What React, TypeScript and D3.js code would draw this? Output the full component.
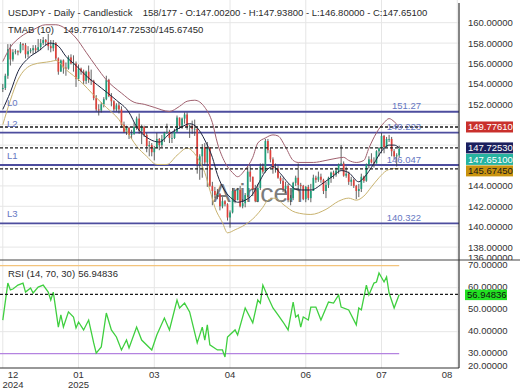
import React from "react";
import * as d3 from "d3";

const W = 520;
const H = 390;

// ---- candle data (bar index 0..157) ----
const opens = [
  153.5, 153.6, 154.8, 157.4, 156.4, 157.1, 157.2, 157.1, 157.9, 157.8,
  156.9, 157.2, 157.3, 157.5, 157.3, 157.6, 158.0, 158.3, 158.1, 157.7,
  157.5, 158.0, 156.5, 155.2, 156.3, 155.6, 155.5, 156.6, 156.0, 156.0,
  154.5, 155.5, 155.2, 154.3, 155.2, 154.4, 154.3, 152.6, 151.5, 151.4,
  152.0, 152.5, 154.4, 152.8, 152.3, 151.5, 151.9, 151.5, 150.0, 149.3,
  149.7, 149.0, 149.1, 149.8, 150.6, 149.4, 149.8, 149.0, 147.9, 148.0,
  147.3, 147.7, 148.6, 148.0, 148.6, 149.2, 149.3, 148.7, 148.7, 149.3,
  150.7, 149.9, 150.6, 151.0, 149.8, 149.9, 149.6, 149.6, 146.1, 146.9,
  147.8, 146.3, 147.8, 144.0, 143.5, 143.1, 143.2, 142.0, 142.5, 142.2,
  140.9, 141.4, 143.5, 142.6, 143.6, 142.0, 142.3, 143.1, 145.4, 144.9,
  143.7, 142.5, 143.8, 145.9, 145.4, 148.4, 147.5, 146.6, 145.7, 145.7,
  144.8, 144.5, 143.7, 144.0, 142.6, 142.8, 144.3, 144.8, 144.1, 144.0,
  142.7, 143.9, 142.8, 143.5, 144.8, 144.6, 144.9, 144.6, 143.5, 144.1,
  144.8, 145.3, 145.1, 145.5, 146.1, 146.2, 145.0, 145.2, 144.4, 144.6,
  144.0, 143.5, 143.7, 144.9, 144.5, 146.1, 146.6, 146.3, 146.2, 147.4,
  147.7, 148.9, 147.8, 148.6, 148.6, 147.4, 146.9, 147.002,
];
const highs = [
  154.0, 155.0, 157.9, 157.9, 157.4, 157.4, 157.3, 158.1, 158.0, 158.0,
  157.7, 157.5, 157.8, 157.8, 158.4, 158.4, 158.6, 158.4, 158.9, 158.3,
  158.3, 158.1, 156.6, 156.4, 156.4, 156.1, 156.8, 156.9, 156.8, 156.2,
  155.9, 155.6, 155.4, 155.3, 155.8, 155.4, 154.4, 152.9, 152.0, 152.2,
  152.7, 154.8, 154.5, 153.1, 152.4, 152.1, 152.2, 151.8, 150.3, 149.9,
  149.8, 149.5, 150.2, 150.8, 151.1, 150.0, 149.9, 149.2, 148.4, 148.2,
  147.9, 149.2, 148.7, 149.0, 149.3, 150.1, 149.5, 149.2, 149.6, 150.9,
  150.7, 150.7, 151.2, 151.2, 150.0, 150.4, 150.5, 149.7, 147.1, 148.1,
  148.2, 148.3, 147.8, 144.4, 143.9, 143.7, 143.3, 142.9, 142.6, 142.3,
  141.6, 143.8, 143.6, 143.8, 144.0, 142.7, 143.3, 145.9, 146.0, 144.9,
  144.1, 144.2, 146.2, 146.2, 148.6, 148.6, 147.7, 146.8, 146.2, 146.0,
  145.0, 144.8, 144.4, 144.2, 143.1, 144.4, 145.0, 146.2, 144.3, 144.1,
  144.0, 144.1, 144.2, 145.1, 145.0, 145.4, 145.2, 144.7, 144.4, 144.9,
  145.4, 145.5, 145.8, 146.2, 148.0, 146.4, 145.9, 145.4, 144.9, 144.7,
  144.1, 144.2, 145.2, 145.0, 146.2, 146.9, 147.2, 146.8, 147.5, 147.8,
  149.2, 149.0, 148.8, 149.0, 148.8, 147.6, 147.2, 147.938,
];
const lows = [
  153.2, 153.4, 154.5, 155.8, 156.2, 156.9, 156.8, 157.0, 157.3, 156.5,
  156.6, 157.0, 156.9, 157.0, 157.2, 157.3, 157.8, 157.8, 157.3, 157.1,
  157.2, 156.3, 154.9, 155.2, 155.0, 154.8, 155.4, 155.9, 155.2, 153.7,
  154.3, 154.9, 154.0, 154.0, 154.1, 153.9, 152.4, 151.3, 150.9, 151.2,
  151.7, 152.4, 152.7, 151.8, 151.3, 151.3, 151.1, 149.7, 149.2, 149.0,
  148.6, 148.6, 149.0, 149.5, 149.1, 148.1, 148.8, 147.3, 146.9, 146.9,
  146.5, 147.7, 147.5, 147.8, 148.3, 149.1, 148.2, 148.2, 148.6, 149.3,
  149.6, 149.6, 150.1, 149.5, 148.7, 149.1, 148.9, 145.2, 144.6, 144.8,
  146.0, 143.9, 143.9, 142.1, 142.8, 142.7, 141.6, 141.8, 142.0, 140.6,
  139.9, 141.3, 142.3, 142.6, 141.9, 141.8, 141.9, 142.9, 144.4, 143.0,
  142.4, 142.4, 143.6, 145.2, 145.3, 147.2, 146.3, 145.2, 145.3, 144.7,
  144.2, 143.4, 143.3, 142.4, 142.1, 142.6, 144.0, 143.6, 143.6, 142.6,
  142.4, 142.6, 142.4, 143.5, 144.3, 144.4, 144.3, 143.2, 142.8, 143.8,
  144.3, 144.7, 144.9, 145.2, 146.0, 144.9, 144.8, 144.1, 144.0, 143.8,
  142.7, 142.9, 143.4, 144.3, 144.4, 145.7, 146.2, 145.8, 146.2, 146.9,
  147.2, 147.2, 147.8, 148.3, 146.9, 146.6, 145.9, 146.8,
];
const closes = [
  153.6, 154.8, 157.4, 156.4, 157.1, 157.2, 157.1, 157.9, 157.8, 156.9,
  157.2, 157.3, 157.5, 157.3, 157.6, 158.0, 158.3, 158.1, 157.7, 157.5,
  158.0, 156.5, 155.2, 156.3, 155.6, 155.5, 156.6, 156.0, 156.0, 154.5,
  155.5, 155.2, 154.3, 155.2, 154.4, 154.3, 152.6, 151.5, 151.4, 152.0,
  152.5, 154.4, 152.8, 152.3, 151.5, 151.9, 151.5, 150.0, 149.3, 149.7,
  149.0, 149.1, 149.8, 150.6, 149.4, 149.8, 149.0, 147.9, 148.0, 147.3,
  147.7, 148.6, 148.0, 148.6, 149.2, 149.3, 148.7, 148.7, 149.3, 150.7,
  149.9, 150.6, 151.0, 149.8, 149.9, 149.6, 149.6, 146.1, 146.9, 147.8,
  146.3, 147.8, 144.0, 143.5, 143.1, 143.2, 142.0, 142.5, 142.2, 140.9,
  141.4, 143.5, 142.6, 143.6, 142.0, 142.3, 143.1, 145.4, 144.9, 143.7,
  142.5, 143.8, 145.9, 145.4, 148.4, 147.5, 146.6, 145.7, 145.7, 144.8,
  144.5, 143.7, 144.0, 142.6, 142.8, 144.3, 144.8, 144.1, 144.0, 142.7,
  143.9, 142.8, 143.5, 144.8, 144.6, 144.9, 144.6, 143.5, 144.1, 144.8,
  145.3, 145.1, 145.5, 146.1, 146.2, 145.0, 145.2, 144.4, 144.6, 144.0,
  143.5, 143.7, 144.9, 144.5, 146.1, 146.6, 146.3, 146.2, 147.4, 147.7,
  148.9, 147.8, 148.6, 148.6, 147.4, 146.9, 147.0, 147.651,
];

// ---- TMA band readings: [bar index, price] ----
const tmaUpper: [number, number][] = [
  [0, 156.2], [3, 157.6], [7, 158.6], [12, 159.3], [17, 159.8], [21, 159.8],
  [25, 159.4], [29, 158.5], [33, 157.1], [37, 155.7], [41, 154.4], [47, 153.1],
  [52, 152.2], [56, 152.0], [60, 151.7], [66, 151.3], [70, 151.8], [73, 152.3],
  [76, 152.4], [80, 151.7], [83, 150.2], [85, 148.2], [88, 146.3], [91, 145.3],
  [93, 144.9], [96, 145.6], [99, 146.8], [101, 148.2], [104, 148.7], [107, 149.0],
  [109, 148.9], [112, 147.8], [115, 146.5], [117, 146.3], [123, 146.3], [128, 146.5],
  [132, 146.7], [135, 146.8], [137, 146.5], [140, 146.3], [143, 146.5], [145, 147.7],
  [148, 149.2], [151, 150.2], [153, 150.6], [155, 150.3], [157, 149.7761],
];
const tmaMid: [number, number][] = [
  [0, 151.5], [3, 153.2], [6, 155.2], [10, 156.5], [14, 157.2], [19, 158.0],
  [22, 157.7], [25, 156.7], [29, 155.8], [33, 154.8], [39, 153.6], [45, 152.4],
  [50, 151.2], [53, 149.8], [58, 148.6], [62, 148.3], [66, 149.1], [71, 149.8],
  [74, 150.1], [77, 149.7], [80, 148.5], [83, 146.8], [85, 145.1], [88, 143.5],
  [91, 142.7], [93, 142.4], [96, 142.6], [99, 143.2], [101, 144.1], [104, 145.4],
  [107, 145.9], [110, 145.2], [113, 144.3], [117, 143.6], [122, 143.6], [127, 144.3],
  [131, 145.0], [134, 145.5], [137, 145.3], [141, 144.4], [143, 144.8], [147, 146.2],
  [150, 147.4], [153, 148.0], [155, 148.0], [157, 147.7253],
];
const tmaLower: [number, number][] = [
  [0, 150.0], [3, 152.4], [6, 154.4], [12, 155.9], [19, 156.2], [21, 156.3],
  [25, 155.4], [31, 154.2], [36, 152.9], [41, 151.7], [46, 150.5], [49, 149.4],
  [53, 147.9], [57, 146.9], [61, 146.1], [65, 146.1], [69, 147.0], [73, 147.7],
  [77, 146.8], [80, 145.3], [82, 143.6], [84, 141.9], [87, 140.4], [89, 139.4],
  [92, 139.7], [96, 140.2], [100, 141.0], [103, 141.9], [105, 142.6], [108, 142.8],
  [111, 142.2], [116, 141.4], [122, 141.2], [128, 141.7], [133, 142.5], [137, 142.8],
  [140, 142.6], [143, 143.0], [146, 143.9], [149, 144.8], [152, 145.5], [155, 145.7],
  [157, 145.6745],
];

// ---- RSI readings: [bar index, value] ----
const rsiPoints: [number, number][] = [
  [0, 45.3], [2, 62.1], [3, 59.0], [4, 59.4], [6, 61.2], [8, 62.1], [9, 58.0],
  [11, 59.9], [12, 57.6], [14, 60.3], [16, 61.2], [18, 58.0], [19, 54.4], [20, 58.0],
  [22, 42.1], [23, 47.6], [24, 42.1], [26, 49.0], [28, 46.7], [29, 41.7], [30, 44.4],
  [32, 40.8], [34, 45.3], [36, 34.9], [37, 30.3], [39, 33.1], [41, 48.5], [43, 40.8],
  [45, 37.6], [47, 31.7], [49, 36.2], [50, 32.6], [53, 42.1], [55, 36.2], [59, 31.7],
  [61, 38.5], [64, 46.2], [66, 40.8], [69, 54.4], [70, 50.8], [72, 53.0], [74, 49.0],
  [77, 34.9], [79, 42.1], [80, 36.2], [81, 43.1], [82, 34.0], [85, 31.7], [87, 31.7],
  [88, 28.5], [89, 37.6], [92, 40.8], [93, 38.5], [96, 50.8], [99, 44.0], [101, 54.4],
  [102, 53.0], [103, 61.2], [105, 55.8], [107, 50.8], [109, 47.6], [111, 44.4],
  [113, 40.8], [115, 53.5], [116, 46.7], [117, 47.6], [118, 42.1], [119, 46.7],
  [121, 45.3], [122, 51.2], [124, 51.2], [126, 45.3], [128, 50.8], [129, 53.5],
  [131, 53.0], [133, 56.7], [134, 51.2], [137, 49.9], [140, 43.1], [141, 50.8],
  [142, 49.9], [144, 61.2], [145, 56.7], [147, 62.1], [148, 62.6], [149, 66.7],
  [151, 62.6], [152, 64.9], [153, 57.6], [155, 50.8], [157, 56.94836],
];

const priceTicks = [160, 158, 156, 154, 152, 150, 148, 146, 144, 142, 140, 138, 136];
const rsiTicks = [70, 60, 50, 40, 30, 20];
const monthTickIdx = [0, 30, 60, 90, 120, 150, 180];
const monthLabels = ["12", "01", "03", "04", "06", "07", "08"];
const yearLabels = ["2024", "2025", "", "", "", "", ""];

const levelNames = ["L0", "L2", "L1", "L3"];
const levelValues = [151.27, 149.223, 146.047, 140.322];
const levelTexts = ["151.27", "149.223", "146.047", "140.322"];

const bandLast = [149.7761, 147.7253, 145.6745];
const lastClose = 147.651;
const rsiLast = 56.94836;
const rsiUpper = 70;
const rsiLower = 30;

const FONT = "'Liberation Sans', Arial, sans-serif";
const FS = 9.5;

export default function App() {
  const plotRight = 459;
  const mainBottom = 260;
  const rsiTop = 260;
  const rsiBottom = 368;
  const n = closes.length;

  const x = d3.scaleLinear().domain([0, 157]).range([2.8, 399.2]);
  const y = d3.scaleLinear().domain([136, 160]).range([267.5, 22.7]);
  const yR = d3.scaleLinear().domain([30, 70]).range([353.7, 265.7]);

  const bandLine = d3
    .line<[number, number]>()
    .x((d) => x(d[0]))
    .y((d) => y(d[1]))
    .curve(d3.curveMonotoneX);
  const rsiLine = d3
    .line<[number, number]>()
    .x((d) => x(d[0]))
    .y((d) => yR(d[1]));

  const lastX = x(n - 1);
  const bodyW = 1.7;

  // right-axis value boxes, stacked to avoid overlap
  const boxes = [
    { v: bandLast[0], fill: "#c9302c", text: "#ffffff" },
    { v: bandLast[1], fill: "#1b1f5e", text: "#ffffff" },
    { v: lastClose, fill: "#27b3a0", text: "#ffffff" },
    { v: bandLast[2], fill: "#c9930f", text: "#1a1a1a" },
  ];
  let prev = -Infinity;
  const boxPos = boxes.map((b) => {
    const cy = Math.max(y(b.v), prev + 11.5);
    prev = cy;
    return { ...b, cy };
  });
  // tick labels fully hidden behind the value boxes are not drawn
  const visiblePriceTicks = priceTicks.filter(
    (t) => !boxPos.some((b) => Math.abs(Math.min(y(t), mainBottom - 2.5) - b.cy) < 9)
  );

  return (
    <svg width={W} height={H} style={{ display: "block", position: "absolute", left: 0, top: 0, background: "#fff" }}>
      <defs>
        <clipPath id="mainClip">
          <rect x={0} y={0} width={plotRight} height={mainBottom} />
        </clipPath>
        <clipPath id="mainAxisClip">
          <rect x={plotRight} y={0} width={W - plotRight} height={mainBottom} />
        </clipPath>
        <clipPath id="rsiAxisClip">
          <rect x={plotRight} y={rsiTop} width={W - plotRight} height={rsiBottom - rsiTop + 2} />
        </clipPath>
      </defs>
      <rect x={0} y={0} width={W} height={H} fill="#ffffff" />

      {/* grid */}
      <g stroke="#e6e6e6" strokeWidth={1}>
        {priceTicks
          .filter((t) => y(t) < mainBottom)
          .map((t) => (
            <line key={"hp" + t} x1={0} x2={plotRight} y1={y(t)} y2={y(t)} />
          ))}
        {[60, 50, 40].map((t) => (
          <line key={"hr" + t} x1={0} x2={plotRight} y1={yR(t)} y2={yR(t)} />
        ))}
        {monthTickIdx.map((t) => (
          <line key={"v" + t} x1={x(t)} x2={x(t)} y1={0} y2={rsiBottom} />
        ))}
      </g>

      <g clipPath="url(#mainClip)">
        {/* watermark */}
        <text x={213} y={202} fontFamily={FONT} fontSize={26.5} fill="#666" opacity={0.85}>
          Arincen
        </text>

        {/* level lines */}
        {levelValues.map((v, i) => (
          <line key={"lv" + i} x1={0} x2={plotRight} y1={y(v)} y2={y(v)} stroke="#4d4d9e" strokeWidth={1.8} />
        ))}

        {/* candles */}
        {closes.map((c, i) => {
          const o = opens[i];
          const up = c >= o;
          const top = y(Math.max(o, c));
          const bot = y(Math.min(o, c));
          return (
            <g key={"c" + i}>
              <line x1={x(i)} x2={x(i)} y1={y(highs[i])} y2={y(lows[i])} stroke="#3a3a3a" strokeWidth={0.8} />
              <rect
                x={x(i) - bodyW / 2}
                y={top}
                width={bodyW}
                height={Math.max(bot - top, 0.8)}
                fill={up ? "#1f9e7a" : "#e0413b"}
              />
            </g>
          );
        })}

        {/* TMA bands */}
        <path d={bandLine(tmaUpper) || ""} fill="none" stroke="#a0606e" strokeWidth={1} />
        <path d={bandLine(tmaMid) || ""} fill="none" stroke="#1e2540" strokeWidth={1} />
        <path d={bandLine(tmaLower) || ""} fill="none" stroke="#c9b36f" strokeWidth={1} />

        {/* last-value dashed lines */}
        {bandLast.map((v, i) => (
          <line key={"d" + i} x1={0} x2={plotRight} y1={y(v)} y2={y(v)} stroke="#1a1a1a" strokeWidth={1.3} strokeDasharray="3,2" />
        ))}

        {/* level labels */}
        {levelValues.map((v, i) => (
          <g key={"ll" + i} fontFamily={FONT} fontSize={FS} fill="#6677c2">
            <text x={7} y={y(v) - 6}>{levelNames[i]}</text>
            <text x={421} y={y(v) - 2.5} textAnchor="end">{levelTexts[i]}</text>
          </g>
        ))}
      </g>

      {/* titles */}
      <g fontFamily={FONT} fontSize={FS} fill="#2a2a2a">
        <text x={8} y={15.7}>USDJPY - Daily - Candlestick</text>
        <text x={142.7} y={15.7}>158/177 - O:147.00200 - H:147.93800 - L:146.80000 - C:147.65100</text>
        <text x={8} y={32.7}>TMAB (10)</text>
        <text x={63.3} y={32.7}>149.77610/147.72530/145.67450</text>
        <text x={8} y={277}>RSI (14, 70, 30)</text>
        <text x={78.3} y={277}>56.94836</text>
      </g>

      {/* RSI panel */}
      <line x1={0} x2={lastX} y1={yR(rsiUpper)} y2={yR(rsiUpper)} stroke="#f3c47c" strokeWidth={1.3} />
      <line x1={0} x2={lastX} y1={yR(rsiLower)} y2={yR(rsiLower)} stroke="#b483e0" strokeWidth={1.3} />
      <path d={rsiLine(rsiPoints) || ""} fill="none" stroke="#3fcf3f" strokeWidth={1.3} />
      <line x1={0} x2={plotRight} y1={yR(rsiLast)} y2={yR(rsiLast)} stroke="#1a1a1a" strokeWidth={1.3} strokeDasharray="3,2" />

      {/* frame */}
      <line x1={0} x2={W} y1={mainBottom} y2={mainBottom} stroke="#444" strokeWidth={1} />
      <line x1={0} x2={plotRight} y1={rsiBottom} y2={rsiBottom} stroke="#333" strokeWidth={1.2} />
      <line x1={plotRight} x2={plotRight} y1={3} y2={rsiBottom} stroke="#333" strokeWidth={1.2} />

      {/* price axis labels */}
      <g fontFamily={FONT} fontSize={FS} fill="#333" clipPath="url(#mainAxisClip)">
        {visiblePriceTicks.map((t) => (
          <text key={"pt" + t} x={468} y={Math.min(y(t), mainBottom - 2.5) + 3.4}>
            {t.toFixed(5)}
          </text>
        ))}
      </g>
      <g fontFamily={FONT} fontSize={FS} clipPath="url(#mainAxisClip)">
        {boxPos.map((b, i) => (
          <g key={"b" + i}>
            <rect x={466} y={b.cy - 5.5} width={47} height={11} fill={b.fill} />
            <text x={468} y={b.cy + 3.4} fill={b.text}>
              {b.v.toFixed(5)}
            </text>
          </g>
        ))}
      </g>

      {/* RSI axis labels */}
      <g fontFamily={FONT} fontSize={FS} fill="#333" clipPath="url(#rsiAxisClip)">
        {rsiTicks.map((t) => (
          <text key={"rt" + t} x={468} y={Math.min(yR(t) - 1, rsiBottom - 2.5) + 3.4}>
            {t.toFixed(5)}
          </text>
        ))}
        <rect x={465} y={yR(rsiLast) - 4.8} width={42} height={10.5} fill="#22e022" />
        <text x={467} y={yR(rsiLast) + 3.6} fill="#111">
          {rsiLast.toFixed(5)}
        </text>
      </g>

      {/* x axis labels */}
      <g fontFamily={FONT} fontSize={FS} fill="#333" textAnchor="middle">
        {monthTickIdx.map((t, i) => {
          const cx = Math.min(Math.max(x(t), 13), 447);
          return (
            <g key={"xl" + i}>
              <text x={cx} y={378}>{monthLabels[i]}</text>
              {yearLabels[i] && <text x={cx} y={388}>{yearLabels[i]}</text>}
            </g>
          );
        })}
      </g>
    </svg>
  );
}
